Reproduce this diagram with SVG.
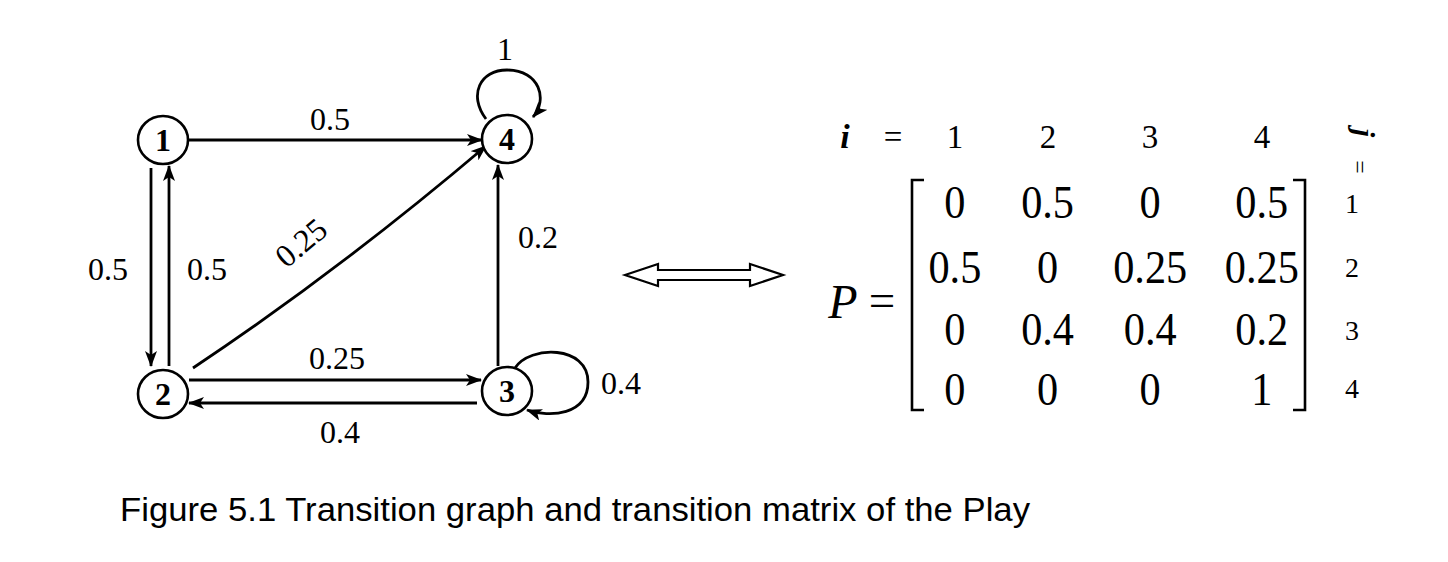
<svg xmlns="http://www.w3.org/2000/svg" width="1448" height="562" viewBox="0 0 1448 562">
<defs>
<marker id="ah" viewBox="0 0 16 12" refX="15" refY="6" markerWidth="16" markerHeight="12" markerUnits="userSpaceOnUse" orient="auto">
<path d="M0,0 L16,6 L0,12 L4,6 z" fill="#000"/>
</marker>
<style>
.edge{fill:none;stroke:#000;stroke-width:2.8;marker-end:url(#ah)}
.node{fill:#fff;stroke:#000;stroke-width:2.6}
.nl{font-family:"Liberation Serif",serif;font-weight:bold;font-size:32px;text-anchor:middle}
.lbl{font-family:"Liberation Serif",serif;font-size:32px;text-anchor:middle}
.m{font-family:"Liberation Serif",serif;font-size:47px;text-anchor:middle}
.h{font-family:"Liberation Serif",serif;font-size:33px;text-anchor:middle}
.r{font-family:"Liberation Serif",serif;font-size:28px;text-anchor:middle}
.cap{font-family:"Liberation Sans",sans-serif;font-size:33px}
</style>
</defs>
<rect width="1448" height="562" fill="#fff"/>
<g id="connectors">
<line class="edge" x1="189" y1="140" x2="482" y2="140"/>
<line class="edge" x1="151" y1="168" x2="151" y2="366"/>
<line class="edge" x1="169" y1="366" x2="169" y2="166"/>
<path class="edge" d="M193,368 Q340,270 486,146"/>
<line class="edge" x1="189" y1="380" x2="481" y2="380"/>
<line class="edge" x1="477" y1="403" x2="189" y2="403"/>
<line class="edge" x1="498" y1="366" x2="498" y2="165"/>
<path class="edge" d="M486,119 C468,95 480,70 507,70 C540,70 548,100 533,117"/>
<path class="edge" d="M515,368 C530,345 588,345 588,382 C588,415 550,418 527,410"/>
</g>
<g id="n1"><ellipse class="node" cx="163" cy="140" rx="25" ry="24"/><text class="nl" x="163" y="151">1</text></g>
<g id="n2"><ellipse class="node" cx="163" cy="394" rx="25" ry="24"/><text class="nl" x="163" y="405">2</text></g>
<g id="n3"><ellipse class="node" cx="507" cy="391" rx="25" ry="24"/><text class="nl" x="507" y="402">3</text></g>
<g id="n4"><ellipse class="node" cx="507" cy="139" rx="25" ry="24"/><text class="nl" x="507" y="150">4</text></g>
<g id="labels">
<text class="lbl" x="505" y="60">1</text>
<text class="lbl" x="330" y="130">0.5</text>
<text class="lbl" x="108" y="280">0.5</text>
<text class="lbl" x="207" y="280">0.5</text>
<text class="lbl" transform="translate(308,251) rotate(-40)" x="0" y="0">0.25</text>
<text class="lbl" x="538" y="248">0.2</text>
<text class="lbl" x="337" y="369">0.25</text>
<text class="lbl" x="340" y="443">0.4</text>
<text class="lbl" x="621" y="394">0.4</text>
</g>
<g id="equiv">
<polygon points="625,275 658,264 658,270 750,270 750,264 783,275 750,286 750,280 658,280 658,286" fill="#fff" stroke="#000" stroke-width="2.2"/>
</g>
<g id="matrix">
<text x="845" y="148" font-family="Liberation Serif, serif" font-size="34" font-weight="bold" font-style="italic" text-anchor="middle">i</text>
<text class="h" x="893" y="148">=</text>
<text class="h" x="955" y="148">1</text>
<text class="h" x="1048" y="148">2</text>
<text class="h" x="1150" y="148">3</text>
<text class="h" x="1262" y="148">4</text>
<text transform="translate(1354,133) rotate(90)" font-family="Liberation Serif, serif" font-size="30" font-weight="bold" font-style="italic" text-anchor="middle">j</text>
<text transform="translate(1352,167) rotate(90)" font-family="Liberation Serif, serif" font-size="24" text-anchor="middle">=</text>
<text x="843" y="318" font-family="Liberation Serif, serif" font-size="48" font-style="italic" text-anchor="middle">P</text>
<text class="m" x="882" y="316">=</text>
<path d="M924,180 L912,180 L912,410 L924,410" fill="none" stroke="#000" stroke-width="2.6"/>
<path d="M1293,180 L1305,180 L1305,410 L1293,410" fill="none" stroke="#000" stroke-width="2.6"/>
<g transform="scale(0.9,1)">
<text class="m" x="1061" y="218">0</text><text class="m" x="1164" y="218">0.5</text><text class="m" x="1278" y="218">0</text><text class="m" x="1402" y="218">0.5</text>
<text class="m" x="1061" y="283">0.5</text><text class="m" x="1164" y="283">0</text><text class="m" x="1278" y="283">0.25</text><text class="m" x="1402" y="283">0.25</text>
<text class="m" x="1061" y="345">0</text><text class="m" x="1164" y="345">0.4</text><text class="m" x="1278" y="345">0.4</text><text class="m" x="1402" y="345">0.2</text>
<text class="m" x="1061" y="405">0</text><text class="m" x="1164" y="405">0</text><text class="m" x="1278" y="405">0</text><text class="m" x="1402" y="405">1</text>
</g>
<text class="r" x="1352" y="213">1</text>
<text class="r" x="1352" y="277">2</text>
<text class="r" x="1352" y="340">3</text>
<text class="r" x="1352" y="398">4</text>
</g>
<text class="cap" x="120" y="521" textLength="910" lengthAdjust="spacingAndGlyphs">Figure 5.1 Transition graph and transition matrix of the Play</text>
</svg>
